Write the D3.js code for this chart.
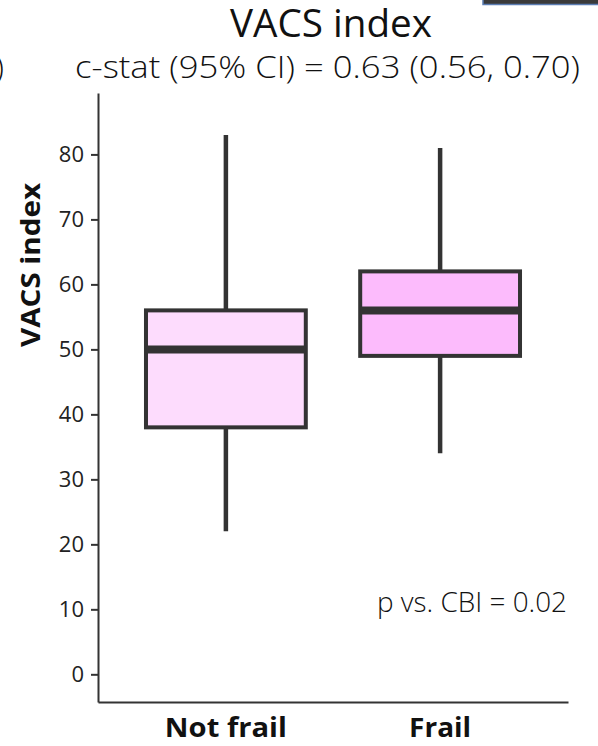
<!DOCTYPE html>
<html>
<head>
<meta charset="utf-8">
<script src="https://cdn.jsdelivr.net/npm/d3@7"></script>
<style>
  html, body { margin: 0; padding: 0; background: #ffffff; }
  svg { display: block; }
</style>
</head>
<body>
<svg id="chart" width="598" height="746"></svg>
<script>
// Box-plot summary for each frailty group
const groups       = ["Not frail", "Frail"];
const whiskerLow   = [22, 34];
const quartile1    = [38, 49];
const medians      = [50, 56];
const quartile3    = [56, 62];
const whiskerHigh  = [83, 81];
const boxFills     = ["#fddcfd", "#fcbbfc"];
const yTickValues  = [0, 10, 20, 30, 40, 50, 60, 70, 80];

const titleText    = "VACS index";
const subtitleText = "c-stat (95% CI) = 0.63 (0.56, 0.70)";
const noteText     = "p vs. CBI = 0.02";
const yAxisTitle   = "VACS index";

const ink = "#333333";
const svg = d3.select("#chart");

const x = d3.scaleBand()
  .domain(groups)
  .range([98, 568])
  .paddingInner(0.254)
  .paddingOuter(0.224);

const y = d3.scaleLinear()
  .domain([-4.26, 89.45])
  .range([702, 93]);

const rows = groups.map((g, i) => ({
  group: g,
  lo: whiskerLow[i],
  q1: quartile1[i],
  med: medians[i],
  q3: quartile3[i],
  hi: whiskerHigh[i],
  fill: boxFills[i]
}));

// Edge of the neighbouring panel at the top right
svg.append("rect")
  .attr("x", 483).attr("y", -10)
  .attr("width", 130).attr("height", 14.5)
  .attr("fill", "#3a3a3a")
  .attr("stroke", "#5b7db3")
  .attr("stroke-width", 1.5);

// Closing bracket of the neighbouring panel's subtitle
svg.append("text")
  .attr("x", 4).attr("y", 78)
  .attr("text-anchor", "end")
  .attr("font-family", "'Open Sans', sans-serif")
  .attr("font-weight", 300)
  .attr("font-size", 32)
  .attr("fill", "#111")
  .text(")");

// Titles
svg.append("text")
  .attr("x", 230).attr("y", 37)
  .attr("font-family", "'Open Sans', sans-serif")
  .attr("font-size", 38)
  .attr("fill", "#111")
  .attr("textLength", 202)
  .attr("lengthAdjust", "spacingAndGlyphs")
  .text(titleText);

svg.append("text")
  .attr("x", 75).attr("y", 78)
  .attr("font-family", "'Open Sans', sans-serif")
  .attr("font-weight", 300)
  .attr("font-size", 32)
  .attr("fill", "#111")
  .attr("textLength", 505)
  .attr("lengthAdjust", "spacingAndGlyphs")
  .text(subtitleText);

// Whiskers
const boxes = svg.append("g").selectAll("g")
  .data(rows)
  .join("g");

boxes.append("line")
  .attr("x1", d => x(d.group) + x.bandwidth() / 2)
  .attr("x2", d => x(d.group) + x.bandwidth() / 2)
  .attr("y1", d => y(d.hi))
  .attr("y2", d => y(d.lo))
  .attr("stroke", ink)
  .attr("stroke-width", 4.5);

// Interquartile boxes
boxes.append("rect")
  .attr("x", d => x(d.group))
  .attr("width", x.bandwidth())
  .attr("y", d => y(d.q3))
  .attr("height", d => y(d.q1) - y(d.q3))
  .attr("fill", d => d.fill)
  .attr("stroke", ink)
  .attr("stroke-width", 4);

// Medians
boxes.append("line")
  .attr("x1", d => x(d.group))
  .attr("x2", d => x(d.group) + x.bandwidth())
  .attr("y1", d => y(d.med))
  .attr("y2", d => y(d.med))
  .attr("stroke", ink)
  .attr("stroke-width", 8);

// Y axis
const yAxis = svg.append("g")
  .attr("transform", "translate(98,0)")
  .call(d3.axisLeft(y).tickValues(yTickValues).tickSize(7).tickPadding(7).tickSizeOuter(0));
yAxis.select(".domain").attr("stroke", ink).attr("stroke-width", 2);
yAxis.selectAll(".tick line").attr("stroke", ink).attr("stroke-width", 2);
yAxis.selectAll(".tick text")
  .attr("font-family", "'Open Sans', sans-serif")
  .attr("font-size", 22)
  .attr("fill", "#222");

// X axis
const xAxis = svg.append("g")
  .attr("transform", "translate(0,702)")
  .call(d3.axisBottom(x).tickSize(0).tickSizeOuter(0).tickFormat(""));
xAxis.select(".domain").attr("stroke", ink).attr("stroke-width", 2);

svg.append("g").selectAll("text")
  .data(groups)
  .join("text")
  .attr("x", d => x(d) + x.bandwidth() / 2)
  .attr("y", 737)
  .attr("text-anchor", "middle")
  .attr("font-family", "'Open Sans', sans-serif")
  .attr("font-weight", 700)
  .attr("font-size", 26)
  .attr("fill", "#111")
  .attr("textLength", d => d === "Frail" ? 62 : 122)
  .attr("lengthAdjust", "spacingAndGlyphs")
  .text(d => d);

// Y axis title
svg.append("text")
  .attr("transform", "translate(40,265) rotate(-90)")
  .attr("text-anchor", "middle")
  .attr("font-family", "'Open Sans', sans-serif")
  .attr("font-weight", 700)
  .attr("font-size", 27)
  .attr("fill", "#111")
  .attr("textLength", 164)
  .attr("lengthAdjust", "spacingAndGlyphs")
  .text(yAxisTitle);

// Comparison note
svg.append("text")
  .attr("x", 377).attr("y", 612)
  .attr("font-family", "'Open Sans', sans-serif")
  .attr("font-weight", 300)
  .attr("font-size", 28)
  .attr("fill", "#111")
  .attr("textLength", 190)
  .attr("lengthAdjust", "spacingAndGlyphs")
  .text(noteText);
</script>
</body>
</html>
